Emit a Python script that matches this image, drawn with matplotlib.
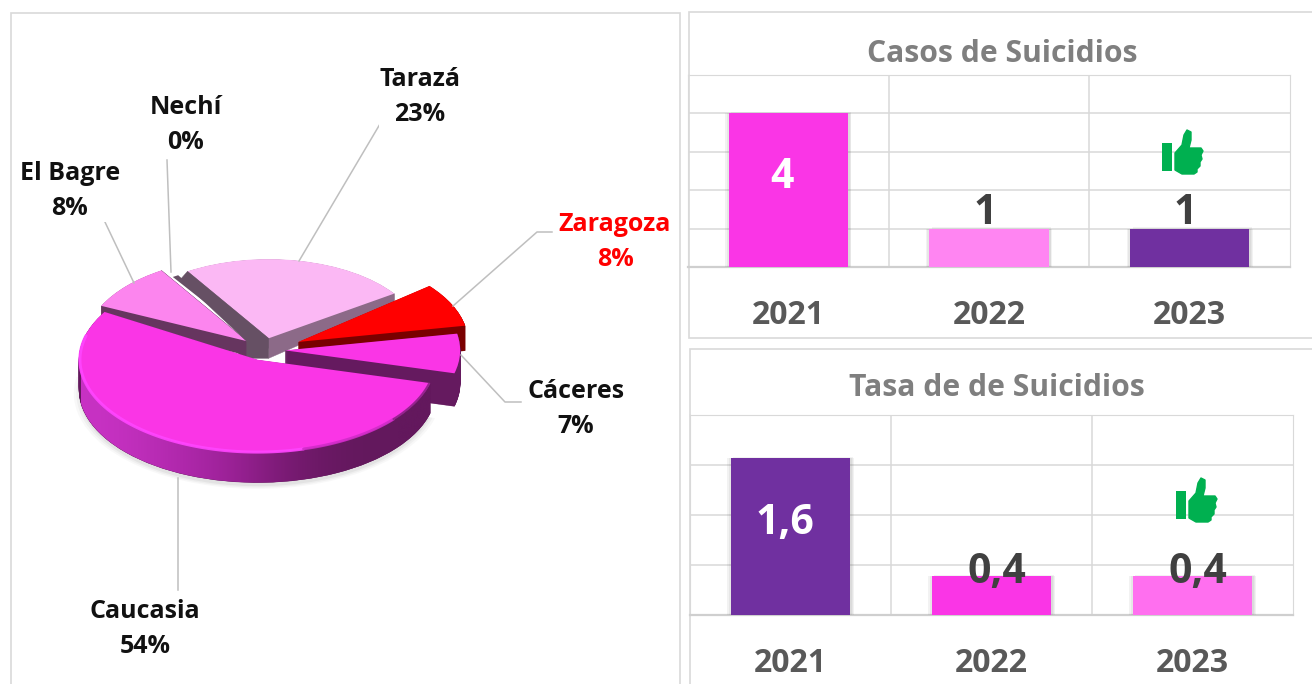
import numpy as np
import matplotlib.pyplot as plt
from matplotlib.patches import Wedge, Rectangle, Polygon
import matplotlib.patheffects as pe

plt.rcParams['font.family'] = ['Open Sans', 'DejaVu Sans']

# pie data
towns = ['Caucasia', 'Cáceres', 'Zaragoza', 'Tarazá', 'Nechí', 'El Bagre']
shares = [54, 7, 8, 23, 0, 8]
town_colors = ['#FA35E6', '#FA35E6', '#FF0000', '#FBB8F4', '#8a5a86', '#FC85EE']
wall_colors = ['#63185D', '#651A5F', '#7A0000', '#8C6A88', '#665064', '#66355F']
explode = [0.115, 0.115, 0.21, 0.13, 0.10, 0.14]
radii = [1.02, 1.0, 0.97, 0.87, 0.86, 0.92]
depths = [30, 33, 25, 10, 10, 14]

# bar data
years = ['2021', '2022', '2023']
cases = [4, 1, 1]
case_labels = ['4', '1', '1']
case_colors = ['#FA35E6', '#FF85F2', '#7030A0']
rates = [1.57, 0.39, 0.39]
rate_labels = ['1,6', '0,4', '0,4']
rate_colors = ['#7030A0', '#FA35E6', '#FF6FEF']

W, H = 1312, 684
fig = plt.figure(figsize=(W / 100, H / 100), dpi=100)

# overlay in pixel coordinates for frames, labels and leader lines
over = fig.add_axes([0, 0, 1, 1], zorder=5)
over.set_xlim(0, W)
over.set_ylim(H, 0)
over.axis('off')
over.patch.set_alpha(0)

back = fig.add_axes([0, 0, 1, 1], zorder=0)
back.set_xlim(0, W)
back.set_ylim(H, 0)
back.axis('off')
for x, y, w, h in [(11, 13, 669, 680), (689, 12, 640, 326), (690, 349, 640, 350)]:
    back.add_patch(Rectangle((x, y), w, h, fc='white', ec='#D9D9D9', lw=1.2))


def axes_px(x0, y0, x1, y1):
    return fig.add_axes([x0 / W, 1 - y1 / H, (x1 - x0) / W, (y1 - y0) / H])


# --- pie ---
cx, cy = 265, 350
rx, ry = 175, 91
pad_x, pad_y = 1.5, 1.6
pie_ax = axes_px(cx - pad_x * rx, cy - pad_y * ry, cx + pad_x * rx, cy + pad_y * ry)
pie_ax.set_zorder(2)
wedges, _ = pie_ax.pie(shares, colors=town_colors, explode=explode, startangle=151,
                       counterclock=True, wedgeprops={'linewidth': 0})
pie_ax.set_aspect('auto')
pie_ax.set_xlim(-pad_x, pad_x)
pie_ax.set_ylim(-pad_y, pad_y)
pie_ax.axis('off')

for wd, r in zip(wedges, radii):
    wd.set_radius(r)
# the original's perspective bends a few edges a bit
wedges[3].set_theta1(wedges[3].theta1 - 5)
wedges[0].set_theta1(wedges[0].theta1 - 2)
wedges[5].set_theta2(wedges[5].theta2 + 4)


def arc_pts(c, r, t1, t2, dy=0.0, n=120):
    t = np.radians(np.linspace(t1, t2, n))
    return np.column_stack([c[0] + r * np.cos(t), c[1] - dy + r * np.sin(t)])


def rim_pt(wd, theta):
    t = np.radians(theta)
    return np.array([wd.center[0] + wd.r * np.cos(t), wd.center[1] + wd.r * np.sin(t)])


def tapered_wall(wd, theta, d_tip, d_rim, color, z):
    # straight cut face, deeper at the tip than at the rim
    tip = np.array(wd.center)
    rim = rim_pt(wd, theta)
    pts = [tip, rim, rim - [0, d_rim / ry], tip - [0, d_tip / ry]]
    pie_ax.add_patch(Polygon(pts, closed=True, fc=color, ec=color, lw=0.3, zorder=z))


# soft shadow under the big slice
big = wedges[0]
for grow, alpha in [(1.05, 0.05), (1.035, 0.07), (1.02, 0.10)]:
    pie_ax.add_patch(Wedge((big.center[0], big.center[1] - 0.37), grow, 170, 345,
                           fc='#808080', alpha=alpha, lw=0, zorder=1))

draw_order = [3, 4, 5, 2, 1, 0]
z = 2
for k in draw_order:
    wd = wedges[k]
    depth = depths[k] / ry
    if shares[k] == 0:
        wd.set_visible(False)
        pie_ax.add_patch(Wedge(wd.center, wd.r, wd.theta1 - 1.2, wd.theta2 + 1.2,
                               fc=wall_colors[k], lw=0, zorder=z))
        z += 1
        continue
    steps = depths[k] * 2
    for s in np.linspace(depth, 0, steps, endpoint=False):
        pie_ax.add_patch(Wedge((wd.center[0], wd.center[1] - s), wd.r, wd.theta1, wd.theta2,
                               fc=wall_colors[k], lw=0.3, ec=wall_colors[k], zorder=z))
        z += 1
    if k == 3:
        tapered_wall(wd, wd.theta1, 20, 10, wall_colors[k], z)
        z += 1
    if k == 5:
        tapered_wall(wd, wd.theta1, 20, 15, wall_colors[k], z)
        z += 1
    if k == 0:
        # rim of the big slice fades from bright magenta to dark along x
        rim = np.vstack([arc_pts(wd.center, wd.r, wd.theta1, wd.theta2),
                         arc_pts(wd.center, wd.r, wd.theta2, wd.theta1, dy=depth)])
        stops = np.array([[0xC8, 0x32, 0xC4], [0xB4, 0x2A, 0xB0], [0xA0, 0x22, 0x9C],
                          [0x78, 0x1A, 0x72], [0x63, 0x18, 0x5D], [0x63, 0x18, 0x5D]]) / 255
        grad = stops[np.newaxis, :, :]
        im = pie_ax.imshow(grad, extent=(-1.05, 0.95, -1.6, 0.2), aspect='auto',
                           interpolation='bicubic', zorder=z)
        im.set_clip_path(Polygon(rim, closed=True, transform=pie_ax.transData))
        pie_ax.set_xlim(-pad_x, pad_x)
        pie_ax.set_ylim(-pad_y, pad_y)
        z += 1
    wd.set_zorder(z)
    z += 1
    if k == 5:
        # dark strip between El Bagre and Tarazá, running into the centre
        taraza = wedges[3]
        tip = np.array(taraza.center)
        outer = rim_pt(taraza, taraza.theta2)
        strip = [outer, tip, tip - [0, 20 / ry], tip + [-22 / rx, -20 / ry],
                 tip + [-22 / rx, -3 / ry], outer + [-7 / rx, -8 / ry]]
        pie_ax.add_patch(Polygon(strip, closed=True, fc=wall_colors[4], ec=wall_colors[4],
                                 lw=0.3, zorder=z))
        z += 1
    if k == 0:
        # bright bevel along the front edge, dark toward the right
        for t1, t2, col, lw in [(165, 285, '#FF45FF', 2.2), (285, 320, '#D02CC8', 2.0),
                                (320, 345, '#8E2288', 1.6)]:
            edge = arc_pts(wd.center, wd.r * 0.995, t1, t2)
            pie_ax.plot(edge[:, 0], edge[:, 1], color=col, lw=lw, zorder=z,
                        solid_capstyle='round', alpha=0.9)
        z += 1

# leader lines
leaders = [[(178, 478), (178, 590)],
           [(461, 355), (505, 402), (521, 402)],
           [(453, 306), (537, 232), (552, 232)],
           [(299, 261), (380, 124), (388, 124)],
           [(171, 272), (167, 160)],
           [(134, 283), (104, 220), (94, 220)]]
for pts in leaders:
    arr = np.array(pts)
    over.plot(arr[:, 0], arr[:, 1], color='#BFBFBF', lw=1.1)

label_pos = [(145, 629), (576, 409), (615, 242), (420, 97), (186, 125), (70, 191)]
for town, share, (x, y) in zip(towns, shares, label_pos):
    col = '#FF0000' if town == 'Zaragoza' else '#111111'
    over.text(x, y, f'{town}\n{share}%', ha='center', va='center', fontsize=18,
              fontweight='bold', color=col, linespacing=1.53,
              bbox=dict(fc='white', ec='none', pad=0.5))


# --- bar panels ---
soft = [pe.SimplePatchShadow(offset=o, shadow_rgbFace='#707070', alpha=0.09)
        for o in [(-2.4, 0), (-1.4, 0), (2.4, 0), (1.4, 0), (2.0, 1.0)]]


def bar_panel(box, values, labels, colors, ymax, step, title, title_xy, year_y, label_gap, label_dx):
    ax = axes_px(*box)
    ax.set_zorder(2)
    ax.patch.set_alpha(0)
    pos = np.arange(len(values))
    bars = ax.bar(pos, values, width=0.595, color=colors, zorder=3)
    for b in bars:
        b.set_path_effects(soft + [pe.Normal()])
    ax.set_xlim(-0.5, 2.5)
    ax.set_ylim(0, ymax)
    ax.set_yticks(np.arange(0, ymax + step / 2, step))
    ax.set_xticks([0.5, 1.5])
    ax.grid(True, color='#D9D9D9', lw=1.1, zorder=0)
    ax.tick_params(length=0, labelbottom=False, labelleft=False)
    for s in ['top', 'right', 'left']:
        ax.spines[s].set_color('#D9D9D9')
    ax.spines['bottom'].set_color('#CFCFCF')
    ax.spines['bottom'].set_linewidth(1.6)
    for p, v, lab in zip(pos, values, labels):
        if v > ymax * 0.5:
            ax.text(p - 0.03, v * 0.58, lab, ha='center', va='center', color='white',
                    fontsize=29.5, fontweight='bold', zorder=4)
        else:
            ax.text(p + label_dx, v + label_gap, lab, ha='center', va='center', color='#404040',
                    fontsize=29.5, fontweight='bold', zorder=4)
    for p, yr in zip(pos, years):
        x_px = box[0] + (p + 0.5) / 3 * (box[2] - box[0])
        over.text(x_px, year_y, yr, ha='center', va='center', color='#595959',
                  fontsize=23, fontweight='bold')
    over.text(title_xy[0], title_xy[1], title, ha='center', va='center', color='#7F7F7F',
              fontsize=21.7, fontweight='bold')
    return ax


bar_panel((688, 75, 1290, 267), cases, case_labels, case_colors, 5, 1,
          'Casos de Suicidios', (1002, 54), 316, 0.40, -0.02)
bar_panel((690, 415, 1293, 615), rates, rate_labels, rate_colors, 2.0, 0.5,
          'Tasa de de Suicidios', (997, 388), 664, 0.04, 0.025)

# thumbs-up marks
hand = np.array([[13, 10], [20, 2], [22, -8], [25, -13], [29, -11], [29, -3], [27, 5],
                 [39, 5], [41, 8], [39, 12], [40, 16], [38, 19], [38, 23], [35, 26], [35, 29],
                 [32, 31], [20, 31], [13, 27]], dtype=float)
for ox, oy in [(1162, 143), (1176, 491)]:
    over.add_patch(Rectangle((ox, oy), 10, 28, fc='#00B050', lw=0))
    pts = hand + [ox, oy]
    over.add_patch(Polygon(pts, closed=True, fc='#00B050', ec='#00B050', lw=1, joinstyle='round'))

fig.savefig('out.png', dpi=100)
